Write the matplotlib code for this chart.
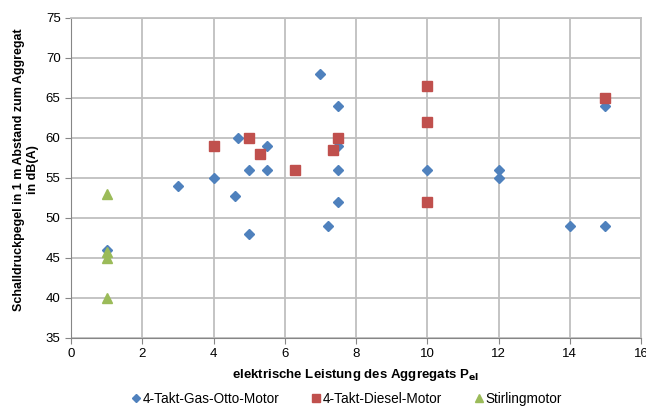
import matplotlib.pyplot as plt

plt.rcParams['font.family'] = ['Liberation Sans', 'DejaVu Sans']

# ---------------------------------------
# Data
# ---------------------------------------

otto_x = [1, 3, 4, 4.6, 4.7, 5, 5, 5.5, 5.5, 7.0, 7.5, 7.5, 7.5, 7.5, 7.2,
          10, 12, 12, 14, 15, 15]
otto_y = [46, 54, 55, 52.8, 60, 56, 48, 59, 56, 68, 64, 59, 56, 52, 49,
          56, 56, 55, 49, 49, 64]

diesel_x = [4, 5, 5.3, 6.3, 7.35, 7.5, 10, 10, 10, 15]
diesel_y = [59, 60, 58, 56, 58.5, 60, 66.5, 62, 52, 65]

stirling_x = [1, 1, 1, 1]
stirling_y = [53, 45.8, 45, 40]

x_ticks = list(range(0, 17, 2))
y_ticks = list(range(35, 76, 5))

# ---------------------------------------
# Plot
# ---------------------------------------

fig = plt.figure(figsize=(6.46, 4.08), dpi=100)
ax = fig.add_axes([0.1099, 0.1716, 0.8824, 0.7843])

ax.plot(otto_x, otto_y, linestyle="none", marker="D", markersize=5.5,
        color="#4F81BD", label="4-Takt-Gas-Otto-Motor", zorder=3)
ax.plot(diesel_x, diesel_y, linestyle="none", marker="s", markersize=7,
        color="#C0504D", label="4-Takt-Diesel-Motor", zorder=3)
ax.plot(stirling_x, stirling_y, linestyle="none", marker="^", markersize=7,
        color="#9BBB59", label="Stirlingmotor", zorder=3)

ax.set_xlim(0, 16)
ax.set_ylim(35, 75)
ax.set_xticks(x_ticks)
ax.set_yticks(y_ticks)

ax.grid(True, color="#BFBFBF", linewidth=1.3)
ax.set_axisbelow(True)

for side in ["top", "right"]:
    ax.spines[side].set_color("#BFBFBF")
    ax.spines[side].set_linewidth(1.3)
for side in ["left", "bottom"]:
    ax.spines[side].set_color("#868686")

ax.tick_params(axis="both", labelsize=9.5, length=4, color="#868686",
               direction="out")

ax.set_ylabel("Schalldruckpegel in 1 m Abstand zum Aggregat\nin dB(A)",
              fontsize=9, fontweight="bold", labelpad=5, y=0.525)
ax.set_xlabel("elektrische Leistung des Aggregats P$_{\\mathbf{el}}$",
              fontsize=9.5, fontweight="bold", labelpad=5)

fig.legend(loc="lower center", bbox_to_anchor=(0.535, -0.025), ncol=3,
           frameon=False, fontsize=9.8, handletextpad=0.0, columnspacing=2.2,
           markerscale=0.8, handlelength=1.0)

plt.savefig("out.png", dpi=100)
